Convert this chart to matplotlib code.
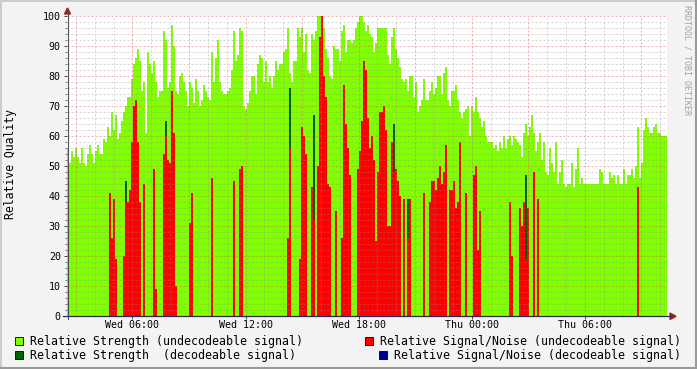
import matplotlib
matplotlib.use("Agg")
import matplotlib.pyplot as plt
from matplotlib.patches import Rectangle, Polygon
from matplotlib.lines import Line2D
import numpy as np

# ---------------- data ----------------
start_hour = 2.53        # first sample: Wed 02:32 (hours after Wed 00:00)
step_hours = 0.1061      # spacing of the consolidated samples

strength_undecodeable = [
    56, 51, 55, 53, 56, 53, 51, 56, 51, 50, 54, 57, 54, 51, 55, 57, 54, 54, 59, 58,
    63, 60, 68, 62, 67, 59, 61, 65, 68, 70, 73, 73, 79, 84, 86, 89, 85, 75, 78, 61,
    88, 84, 81, 85, 78, 73, 75, 75, 95, 92, 76, 78, 97, 90, 75, 74, 80, 81, 78, 75,
    70, 78, 76, 71, 79, 75, 70, 72, 77, 75, 73, 72, 88, 78, 86, 92, 78, 75, 74, 74,
    75, 76, 82, 95, 85, 87, 96, 95, 70, 69, 71, 75, 80, 80, 74, 84, 87, 86, 78, 85,
    78, 80, 76, 80, 85, 82, 84, 84, 88, 89, 96, 81, 78, 85, 85, 96, 93, 96, 88, 94,
    82, 81, 94, 92, 95, 100, 100, 100, 96, 89, 86, 80, 79, 90, 89, 89, 85, 95, 97, 88,
    92, 92, 91, 92, 96, 98, 100, 100, 98, 95, 97, 94, 93, 88, 91, 96, 96, 96, 96, 96,
    87, 84, 93, 96, 89, 86, 83, 79, 78, 79, 75, 80, 80, 73, 78, 68, 70, 72, 79, 72,
    72, 75, 78, 74, 76, 80, 80, 74, 81, 83, 72, 70, 75, 75, 77, 72, 68, 66, 68, 69,
    70, 60, 70, 68, 73, 68, 66, 63, 65, 60, 58, 58, 58, 56, 57, 55, 58, 56, 60, 56,
    59, 60, 57, 60, 59, 58, 57, 53, 61, 64, 60, 63, 67, 61, 55, 58, 61, 52, 58, 48,
    47, 56, 51, 48, 58, 44, 48, 52, 44, 43, 44, 44, 51, 43, 49, 56, 44, 46, 44, 44,
    44, 44, 44, 44, 44, 44, 49, 48, 44, 44, 44, 48, 46, 47, 44, 47, 44, 44, 49, 44,
    47, 47, 49, 46, 50, 63, 46, 51, 62, 66, 63, 61, 61, 63, 64, 61, 61, 60, 60, 60,
]

strength_decodeable = [
    0, 0, 0, 0, 0, 0, 0, 0, 0, 0, 0, 0, 0, 0, 0, 0, 0, 0, 0, 0,
    0, 0, 0, 0, 0, 0, 0, 0, 0, 45, 0, 0, 0, 0, 0, 0, 0, 0, 0, 0,
    0, 0, 0, 0, 0, 0, 0, 0, 0, 65, 0, 0, 0, 0, 0, 0, 0, 0, 0, 0,
    0, 0, 0, 0, 0, 0, 0, 0, 0, 0, 0, 0, 0, 0, 0, 0, 0, 0, 0, 0,
    0, 0, 0, 0, 0, 0, 0, 0, 0, 0, 0, 0, 0, 0, 0, 0, 0, 0, 0, 0,
    0, 0, 0, 0, 0, 0, 0, 0, 0, 0, 0, 76, 0, 0, 0, 0, 0, 0, 0, 0,
    0, 0, 0, 67, 0, 0, 0, 0, 0, 0, 0, 0, 0, 0, 0, 0, 0, 0, 0, 0,
    0, 0, 0, 0, 0, 0, 0, 0, 0, 0, 0, 0, 0, 0, 0, 0, 0, 0, 0, 0,
    0, 0, 0, 64, 0, 0, 0, 0, 0, 0, 39, 0, 0, 0, 0, 0, 0, 0, 0, 0,
    0, 0, 0, 0, 0, 0, 0, 0, 0, 0, 0, 0, 0, 0, 0, 0, 0, 0, 0, 0,
    0, 0, 0, 0, 0, 0, 0, 0, 0, 0, 0, 0, 0, 0, 0, 0, 0, 0, 0, 0,
    0, 0, 0, 0, 0, 0, 0, 0, 0, 47, 0, 0, 0, 0, 0, 0, 0, 0, 0, 0,
    0, 0, 0, 0, 0, 0, 0, 0, 0, 0, 0, 0, 0, 0, 0, 0, 0, 0, 0, 0,
    0, 0, 0, 0, 0, 0, 0, 0, 0, 0, 0, 0, 0, 0, 0, 0, 0, 0, 0, 0,
    0, 0, 0, 0, 0, 0, 0, 0, 0, 0, 0, 0, 0, 0, 0, 0, 0, 0, 0, 0,
]

snr_undecodeable = [
    0, 0, 0, 0, 0, 0, 0, 0, 0, 0, 0, 0, 0, 0, 0, 0, 0, 0, 0, 0,
    0, 41, 26, 39, 19, 0, 0, 0, 20, 38, 38, 42, 58, 70, 72, 58, 38, 0, 44, 0,
    0, 0, 0, 49, 9, 0, 0, 0, 54, 60, 52, 51, 75, 61, 10, 0, 0, 0, 0, 0,
    0, 31, 41, 0, 0, 0, 0, 0, 0, 0, 0, 0, 46, 0, 0, 0, 0, 0, 0, 0,
    0, 0, 0, 45, 0, 0, 49, 50, 0, 0, 0, 0, 0, 0, 0, 0, 0, 0, 0, 0,
    0, 0, 0, 0, 0, 0, 0, 0, 0, 0, 26, 56, 0, 0, 0, 0, 19, 63, 60, 54,
    0, 0, 43, 32, 0, 50, 93, 100, 80, 73, 44, 43, 0, 0, 35, 0, 0, 26, 77, 64,
    56, 47, 0, 0, 0, 49, 55, 65, 85, 82, 66, 56, 60, 52, 25, 48, 68, 68, 70, 62,
    30, 30, 58, 48, 49, 45, 40, 0, 39, 0, 26, 39, 0, 0, 0, 0, 0, 0, 41, 0,
    0, 38, 45, 45, 42, 46, 50, 44, 48, 57, 0, 42, 42, 45, 36, 38, 58, 0, 0, 41,
    0, 0, 0, 47, 50, 22, 35, 0, 0, 0, 0, 0, 0, 0, 0, 0, 0, 0, 0, 0,
    0, 38, 20, 0, 0, 0, 36, 30, 38, 19, 36, 0, 0, 48, 0, 39, 0, 0, 0, 0,
    0, 0, 0, 0, 0, 0, 0, 0, 0, 0, 0, 0, 0, 0, 0, 0, 0, 0, 0, 0,
    0, 0, 0, 0, 0, 0, 0, 0, 0, 0, 0, 0, 0, 0, 0, 0, 0, 0, 0, 0,
    0, 0, 0, 0, 0, 43, 0, 0, 0, 0, 0, 0, 0, 0, 0, 0, 0, 0, 0, 0,
]

x_tick_hours = [6, 12, 18, 24, 30]
x_tick_labels = ["Wed 06:00", "Wed 12:00", "Wed 18:00", "Thu 00:00", "Thu 06:00"]
y_ticks = [0, 10, 20, 30, 40, 50, 60, 70, 80, 90, 100]

legend_labels = [
    "Relative Strength (undecodeable signal)",
    "Relative Signal/Noise (undecodeable signal)",
    "Relative Strength  (decodeable signal)",
    "Relative Signal/Noise (decodeable signal)",
]
col_strength_undec = "#7FFF00"
col_strength_dec = "#006400"
col_snr_undec = "#FF0000"
col_snr_dec = "#000099"

# ---------------- figure ----------------
W, H = 697, 369
MONO = "DejaVu Sans Mono"
fig = plt.figure(figsize=(W / 100, H / 100), dpi=100)
fig.patch.set_facecolor("#F3F3F3")


def fx(px):
    return px / W


def fy(py):
    return 1 - py / H


ax = fig.add_axes([fx(67), fy(316), 600 / W, 300 / H])
ax.set_facecolor("white")

n = len(strength_undecodeable)
edges = start_hour + step_hours * np.arange(n + 1)
ax.stairs(strength_undecodeable, edges, fill=True, color=col_strength_undec,
          linewidth=0, zorder=1)
ax.stairs(strength_decodeable, edges, fill=True, color=col_strength_dec,
          linewidth=0, zorder=1.1)
ax.stairs(snr_undecodeable, edges, fill=True, color=col_snr_undec,
          linewidth=0, zorder=1.2)

ax.set_xlim(edges[0], edges[-1])
ax.set_ylim(0, 100)

# grid (drawn over the data, like rrdtool)
dots = (0, (2, 2))
for h in range(3, 35):
    if edges[0] < h < edges[-1]:
        if h % 3 == 0:
            ax.axvline(h, color="#E05050", alpha=0.45, lw=0.72, ls=dots, zorder=3)
        else:
            ax.axvline(h, color="#8F8F8F", alpha=0.38, lw=0.72, ls=dots, zorder=3)
for v in range(2, 101, 2):
    if v % 10 == 0:
        ax.axhline(v, color="#E05050", alpha=0.45, lw=0.72, ls=dots, zorder=3)
    else:
        ax.axhline(v, color="#8F8F8F", alpha=0.38, lw=0.72, ls=dots, zorder=3)

for s in ax.spines.values():
    s.set_visible(False)

ax.set_yticks(y_ticks)
ax.set_yticklabels([str(v) for v in y_ticks], fontfamily=MONO, fontsize=7.2)
ax.set_yticks(range(0, 101, 2), minor=True)
ax.set_xticks(x_tick_hours)
ax.set_xticklabels(x_tick_labels, fontfamily=MONO, fontsize=7.2)
ax.tick_params(axis="y", which="major", length=2.5, width=0.7, color="#444444", pad=2)
ax.tick_params(axis="y", which="minor", length=1.2, width=0.6, color="#666666")
ax.tick_params(axis="x", which="major", length=2, width=0.7, color="#444444", pad=1)

# axes lines and arrows
fig.add_artist(Line2D([fx(67.5), fx(67.5)], [fy(319), fy(12)], color="#505050",
                      lw=0.8, transform=fig.transFigure))
fig.add_artist(Line2D([fx(63), fx(671)], [fy(316.3), fy(316.3)], color="#2B2B5A",
                      lw=0.9, transform=fig.transFigure))
fig.add_artist(Polygon([[fx(64.5), fy(14)], [fx(70.5), fy(14)], [fx(67.5), fy(8)]],
                       closed=True, color="#A02020", transform=fig.transFigure))
fig.add_artist(Polygon([[fx(670), fy(313)], [fx(670), fy(319.5)], [fx(676), fy(316.3)]],
                       closed=True, color="#A02020", transform=fig.transFigure))

# y label
fig.text(fx(11), fy(164), "Relative Quality", rotation=90, ha="center", va="center",
         fontfamily=MONO, fontsize=8.3, color="black")

# watermark
fig.text(fx(687), fy(60), "RRDTOOL / TOBI OETIKER", rotation=270, ha="center",
         va="center", fontfamily=MONO, fontsize=6.0, color="#A0A0A0")

# legend
legend_items = [
    (15, 341, col_strength_undec, legend_labels[0], 30, "left"),
    (365, 341, col_snr_undec, legend_labels[1], 681, "right"),
    (15, 355, col_strength_dec, legend_labels[2], 30, "left"),
    (379, 355, col_snr_dec, legend_labels[3], 681, "right"),
]
for sx, sy, col, label, tx, ha in legend_items:
    fig.add_artist(Rectangle((fx(sx), fy(sy + 4)), 8 / W, 8 / H, facecolor=col,
                             edgecolor="black", lw=0.6, transform=fig.transFigure))
    fig.text(fx(tx), fy(sy), label, ha=ha, va="center", fontfamily=MONO,
             fontsize=8.4, color="black")

# 3D frame
fig.add_artist(Line2D([0, 1], [fy(0.5), fy(0.5)], color="#CBCBCB", lw=1.4,
                      transform=fig.transFigure))
fig.add_artist(Line2D([fx(0.5), fx(0.5)], [0, 1], color="#CBCBCB", lw=1.4,
                      transform=fig.transFigure))
fig.add_artist(Line2D([fx(695.5), fx(695.5)], [0, 1], color="#999999", lw=2.2,
                      transform=fig.transFigure))
fig.add_artist(Line2D([0, 1], [fy(367.5), fy(367.5)], color="#999999", lw=2.2,
                      transform=fig.transFigure))

fig.savefig("out.png", dpi=100, facecolor=fig.get_facecolor())
